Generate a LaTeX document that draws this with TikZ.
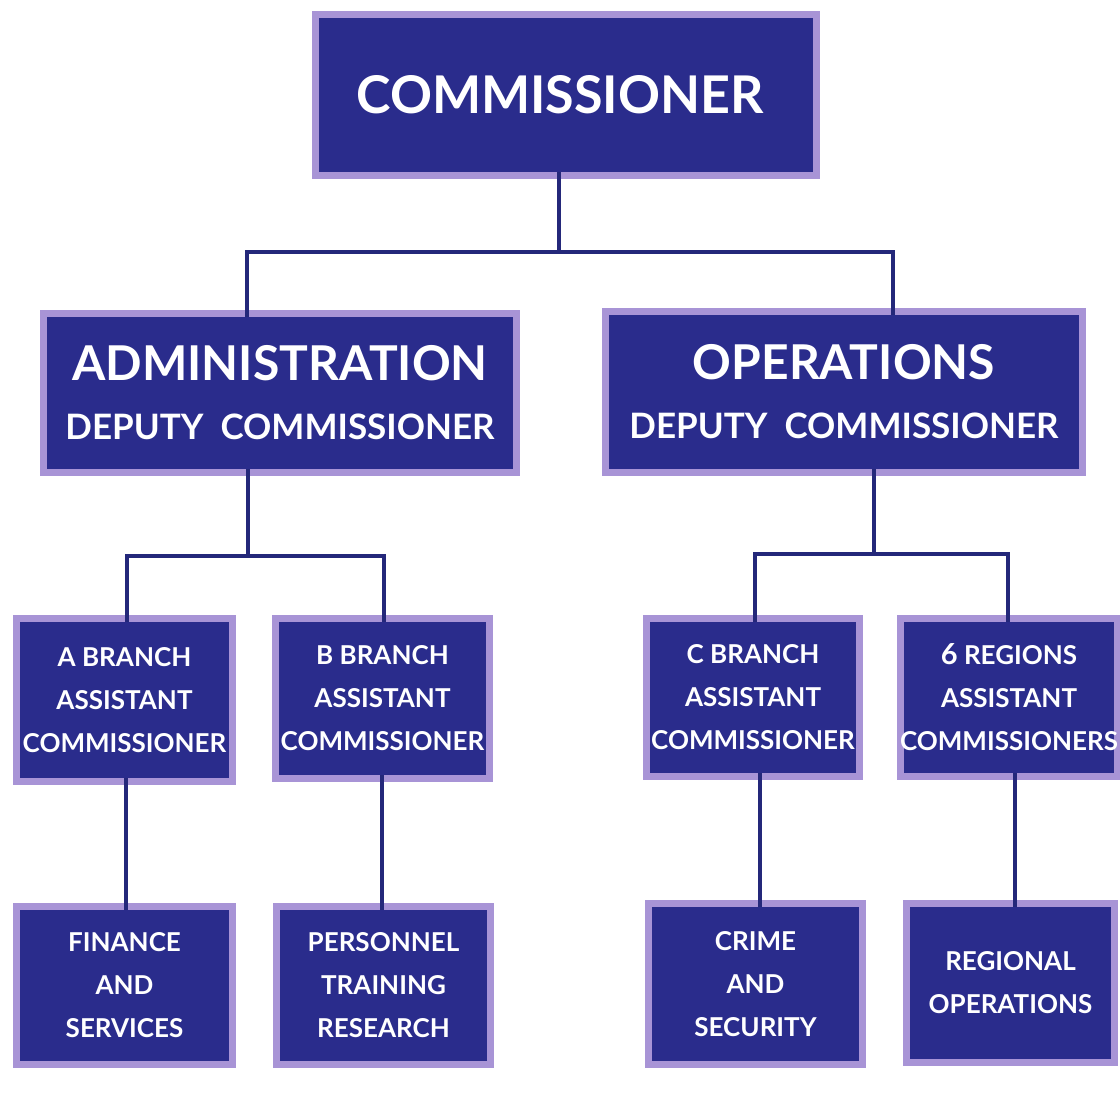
\documentclass[tikz,border=0pt]{standalone}
\usepackage{fontspec}
\setmainfont{Lato}
\definecolor{navy}{RGB}{42,44,140}
\definecolor{lav}{RGB}{168,148,214}
\definecolor{linec}{RGB}{36,40,122}
\begin{document}
\begin{tikzpicture}[x=1pt,y=-1pt,
  orgbox/.style={fill=navy, draw=lav, line width=7pt, text=white, align=center, inner sep=0pt, outer sep=0pt},
  big/.style={font=\bfseries\fontsize{52}{60}\selectfont},
  dep/.style={font=\bfseries\fontsize{35}{59}\selectfont},
  small/.style={font=\bfseries\fontsize{26}{43}\selectfont},
  conn/.style={draw=linec, line width=4.5pt, shorten <=-3.5pt, shorten >=-3.5pt}]
\useasboundingbox (0,0) rectangle (1120,1104);
\fill[white] (0,0) rectangle (1120,1104);
% boxes
\node[orgbox, big, minimum width=501pt, minimum height=161pt] (comm) at (566,95) {\hspace{-12pt}COMMISSIONER};
\node[orgbox, dep, minimum width=473pt, minimum height=159pt] (admin) at (280,393)
  {{\fontsize{48}{59}\selectfont ADMINISTRATION}\\DEPUTY\hspace{17pt}COMMISSIONER};
\node[orgbox, dep, minimum width=477pt, minimum height=161pt] (ops) at (844,392)
  {{\fontsize{48}{59}\selectfont OPERATIONS}\\DEPUTY\hspace{17pt}COMMISSIONER};
\node[orgbox, small, minimum width=216pt, minimum height=163pt] (abr) at (124.5,700) {A BRANCH\\ASSISTANT\\COMMISSIONER};
\node[orgbox, small, minimum width=214pt, minimum height=160pt] (bbr) at (382.5,698.5) {B BRANCH\\ASSISTANT\\COMMISSIONER};
\node[orgbox, small, minimum width=213pt, minimum height=158pt] (cbr) at (753,697.5) {C BRANCH\\ASSISTANT\\COMMISSIONER};
\node[orgbox, small, minimum width=211pt, minimum height=158pt] (reg) at (1009,697.5) {{\fontsize{29}{43}\selectfont 6} REGIONS\\ASSISTANT\\COMMISSIONERS};
\node[orgbox, small, minimum width=216pt, minimum height=158pt] (fin) at (124.5,985.5) {FINANCE\\AND\\SERVICES};
\node[orgbox, small, minimum width=214pt, minimum height=158pt] (per) at (383.5,985.5) {PERSONNEL\\TRAINING\\RESEARCH};
\node[orgbox, small, minimum width=214pt, minimum height=161pt] (cri) at (755.5,984) {CRIME\\AND\\SECURITY};
\node[orgbox, small, minimum width=208pt, minimum height=159pt] (ron) at (1010.5,983) {REGIONAL\\OPERATIONS};
% junctions
\coordinate (j0) at (559,252);
\coordinate (xa) at (247,0);
\coordinate (xo) at (893,0);
\coordinate (j1) at (248,556);
\coordinate (xa1) at (127,0);
\coordinate (xb1) at (384,0);
\coordinate (j2) at (874,554);
\coordinate (xc1) at (755,0);
\coordinate (xr1) at (1008,0);
\coordinate (xa2) at (126,0);
\coordinate (xb2) at (382,0);
\coordinate (xc2) at (760,0);
\coordinate (xr2) at (1015,0);
% connectors
\draw[conn, shorten >=0pt] (comm.south -| j0) -- (j0);
\draw[conn] (admin.north -| xa) |- (j0) -| (ops.north -| xo);
\draw[conn, shorten >=0pt] (admin.south -| j1) -- (j1);
\draw[conn] (abr.north -| xa1) |- (j1) -| (bbr.north -| xb1);
\draw[conn, shorten >=0pt] (ops.south -| j2) -- (j2);
\draw[conn] (cbr.north -| xc1) |- (j2) -| (reg.north -| xr1);
\draw[conn] (abr.south -| xa2) -- (fin.north -| xa2);
\draw[conn] (bbr.south -| xb2) -- (per.north -| xb2);
\draw[conn] (cbr.south -| xc2) -- (cri.north -| xc2);
\draw[conn] (reg.south -| xr2) -- (ron.north -| xr2);
\end{tikzpicture}
\end{document}
